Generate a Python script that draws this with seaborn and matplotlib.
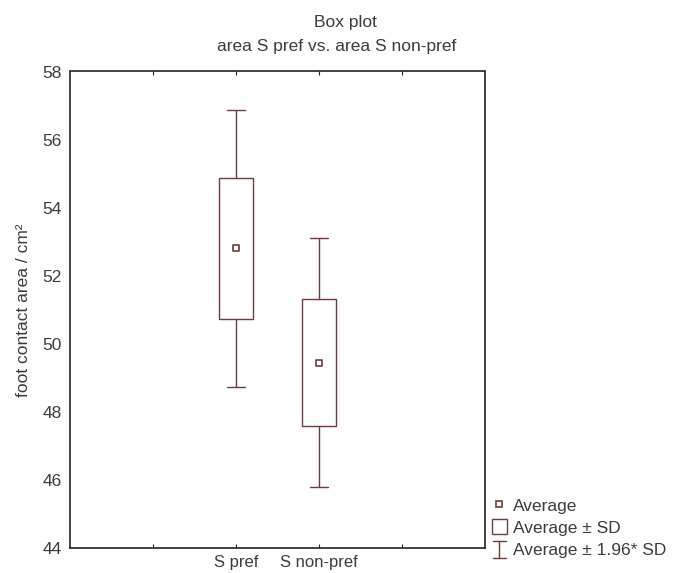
import matplotlib
matplotlib.use("Agg")
import matplotlib.pyplot as plt
from matplotlib.lines import Line2D
from matplotlib.patches import Patch
from matplotlib.legend_handler import HandlerBase
import seaborn as sns
import pandas as pd

# ---- data ----
categories = ["S pref", "S non-pref"]
means = [52.8, 49.45]
sds = [2.08, 1.86]
sd_factor = 1.96
yticks = [44, 46, 48, 50, 52, 54, 56, 58]

title_lines = ["Box plot", "area S pref vs. area S non-pref"]
ylabel = "foot contact area / cm²"
legend_labels = ["Average", "Average ± SD", "Average ± 1.96* SD"]

BOX = "#6e3c3c"
TXT = "#3c3c3c"
FS = 12.5

sns.set_style("white")
plt.rcParams["font.family"] = ["Liberation Sans", "DejaVu Sans"]
plt.rcParams["font.size"] = FS

fig = plt.figure(figsize=(6.78, 5.73), dpi=100)
ax = fig.add_axes([70 / 678, 1 - 548 / 573, 415 / 678, (548 - 71.5) / 573])

df = pd.DataFrame({"cat": categories, "mean": means, "sd": sds})

# mean markers via seaborn
sns.scatterplot(data=df, x="cat", y="mean", marker="s", s=20,
                facecolor="white", edgecolor=BOX, linewidth=1.2, zorder=5, ax=ax)

stats = []
for c, m, s in zip(categories, means, sds):
    stats.append(dict(label=c, med=m, q1=m - s, q3=m + s,
                      whislo=m - sd_factor * s, whishi=m + sd_factor * s, fliers=[]))
ax.bxp(stats, positions=list(range(len(categories))), widths=0.42, capwidths=0.21,
       showfliers=False, patch_artist=True,
       boxprops=dict(facecolor="white", edgecolor=BOX, linewidth=1.0),
       whiskerprops=dict(color=BOX, linewidth=1.0),
       capprops=dict(color=BOX, linewidth=1.0),
       medianprops=dict(linewidth=0, color="none"),
       manage_ticks=False, zorder=3)

ax.set_xlim(-2, 3)
ax.set_ylim(44, 58)
ax.set_yticks(yticks)
ax.set_yticklabels([str(t) for t in yticks])
ax.set_xticks([-1, 0, 1, 2])
ax.set_xticklabels(["", categories[0], categories[1], ""])
ax.set_xlabel("")
ax.set_ylabel(ylabel, color=TXT, fontsize=FS, labelpad=8)

ax.tick_params(axis="both", direction="in", length=3, width=0.8, colors="#222222",
               labelcolor=TXT, labelsize=FS)
ax.tick_params(axis="y", pad=6)
ax.tick_params(axis="x", pad=5, top=True, bottom=True, labelsize=12)
for sp in ax.spines.values():
    sp.set_visible(True)
    sp.set_color("#222222")
    sp.set_linewidth(1.2)

fig.text(345 / 678, 1 - 23 / 573, title_lines[0], ha="center", va="center",
         color=TXT, fontsize=FS)
fig.text(337 / 678, 1 - 46 / 573, title_lines[1], ha="center", va="center",
         color=TXT, fontsize=FS)


class IBarHandler(HandlerBase):
    def create_artists(self, legend, orig_handle, xdescent, ydescent, width, height,
                       fontsize, trans):
        cx = width / 2 - xdescent
        y0 = -ydescent - 1
        y1 = -ydescent + height
        hw = 4.5
        arts = [Line2D([cx, cx], [y0, y1], color=BOX, lw=1.0),
                Line2D([cx - hw, cx + hw], [y0, y0], color=BOX, lw=1.0),
                Line2D([cx - hw, cx + hw], [y1, y1], color=BOX, lw=1.0)]
        for a in arts:
            a.set_transform(trans)
        return arts


class IBar:
    pass


h_avg = Line2D([], [], marker="s", linestyle="none", markersize=4,
               markerfacecolor="white", markeredgecolor=BOX, markeredgewidth=1.2)
h_sd = Patch(facecolor="white", edgecolor=BOX, linewidth=1.0)
h_ci = IBar()
leg = fig.legend([h_avg, h_sd, h_ci], legend_labels,
                 handler_map={IBar: IBarHandler()},
                 loc="upper left", bbox_to_anchor=(492 / 678, 1 - 497 / 573),
                 frameon=False, handlelength=0.85, handleheight=1.0, handletextpad=0.35,
                 labelspacing=0.3, borderpad=0, borderaxespad=0, fontsize=FS,
                 labelcolor=TXT)

fig.savefig("out.png", dpi=100)
